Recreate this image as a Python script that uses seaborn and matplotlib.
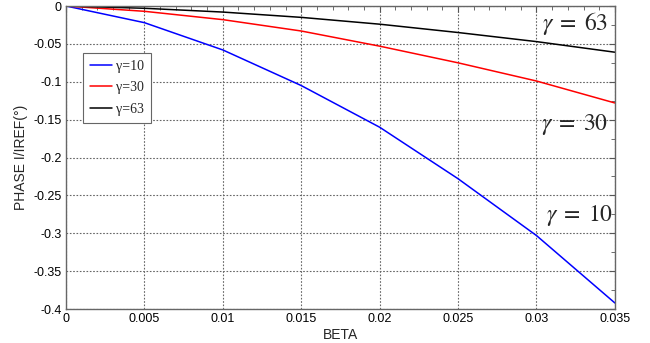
import matplotlib
matplotlib.use("Agg")
import matplotlib.pyplot as plt
import numpy as np
import pandas as pd
import seaborn as sns
from matplotlib.ticker import MultipleLocator, FuncFormatter

# Dane
beta = [0, 0.005, 0.01, 0.015, 0.02, 0.025, 0.03, 0.035]
phase_g10 = [0, -0.022, -0.058, -0.105, -0.160, -0.228, -0.303, -0.392]
phase_g30 = [0, -0.007, -0.018, -0.033, -0.053, -0.075, -0.099, -0.128]
phase_g63 = [0, -0.003, -0.008, -0.015, -0.024, -0.035, -0.047, -0.061]
gammas = ["γ=10", "γ=30", "γ=63"]
colors = ["#0000ff", "#ff0000", "#000000"]

df = pd.DataFrame({
    "BETA": beta * 3,
    "PHASE": phase_g10 + phase_g30 + phase_g63,
    "gamma": np.repeat(gammas, len(beta)),
})

sns.set_style("white")
plt.rcParams["font.family"] = ["Liberation Sans", "DejaVu Sans"]
plt.rcParams["mathtext.fontset"] = "stix"

fig = plt.figure(figsize=(6.5, 3.43), dpi=100)
ax = fig.add_axes([0.1015, 0.099, 0.8445, 0.8835])

sns.lineplot(data=df, x="BETA", y="PHASE", hue="gamma",
             palette=dict(zip(gammas, colors)), linewidth=1.1, ax=ax, legend=False)

ax.set_xlim(0, 0.035)
ax.set_ylim(-0.4, 0)
ax.xaxis.set_major_locator(MultipleLocator(0.005))
ax.xaxis.set_minor_locator(MultipleLocator(0.001))
ax.yaxis.set_major_locator(MultipleLocator(0.05))
ax.yaxis.set_minor_locator(MultipleLocator(0.025))
fmt = FuncFormatter(lambda v, p: "0" if abs(v) < 1e-12 else ("%g" % round(v, 4)))
ax.xaxis.set_major_formatter(fmt)
ax.yaxis.set_major_formatter(fmt)

ax.tick_params(which="both", direction="in", top=True, right=True, colors="#555555",
               labelcolor="black", labelsize=9, pad=3)
ax.tick_params(which="major", length=4)
ax.tick_params(which="minor", length=3)
ax.grid(True, which="major", linestyle=(0, (1.5, 1.5)), color="#666666", linewidth=0.8)
for s in ax.spines.values():
    s.set_color("#666666")
    s.set_linewidth(1.0)

ax.set_xlabel("BETA", fontsize=10, labelpad=2)
ax.set_ylabel("PHASE I/IREF(°)", fontsize=10, labelpad=4)

# Legenda
handles = [plt.Line2D([], [], color=c, linewidth=1.1) for c in colors]
leg = ax.legend(handles, gammas, loc="upper left", bbox_to_anchor=(0.031, 0.845),
                borderaxespad=0, fancybox=False, framealpha=1, edgecolor="#666666",
                handlelength=1.6, prop={"family": "Liberation Serif", "size": 10},
                borderpad=0.5, labelspacing=0.6, handletextpad=0.25)
leg.get_frame().set_linewidth(0.8)

# Opisy krzywych
ax.text(0.0346, -0.0235, r"$\gamma\;=\;\mathit{63}$", fontsize=17, ha="right", va="center")
ax.text(0.0346, -0.157, r"$\gamma\;=\;30$", fontsize=17, ha="right", va="center")
ax.text(0.0349, -0.277, r"$\gamma\;=\;10$", fontsize=17, ha="right", va="center")

fig.savefig("out.png", dpi=100)
